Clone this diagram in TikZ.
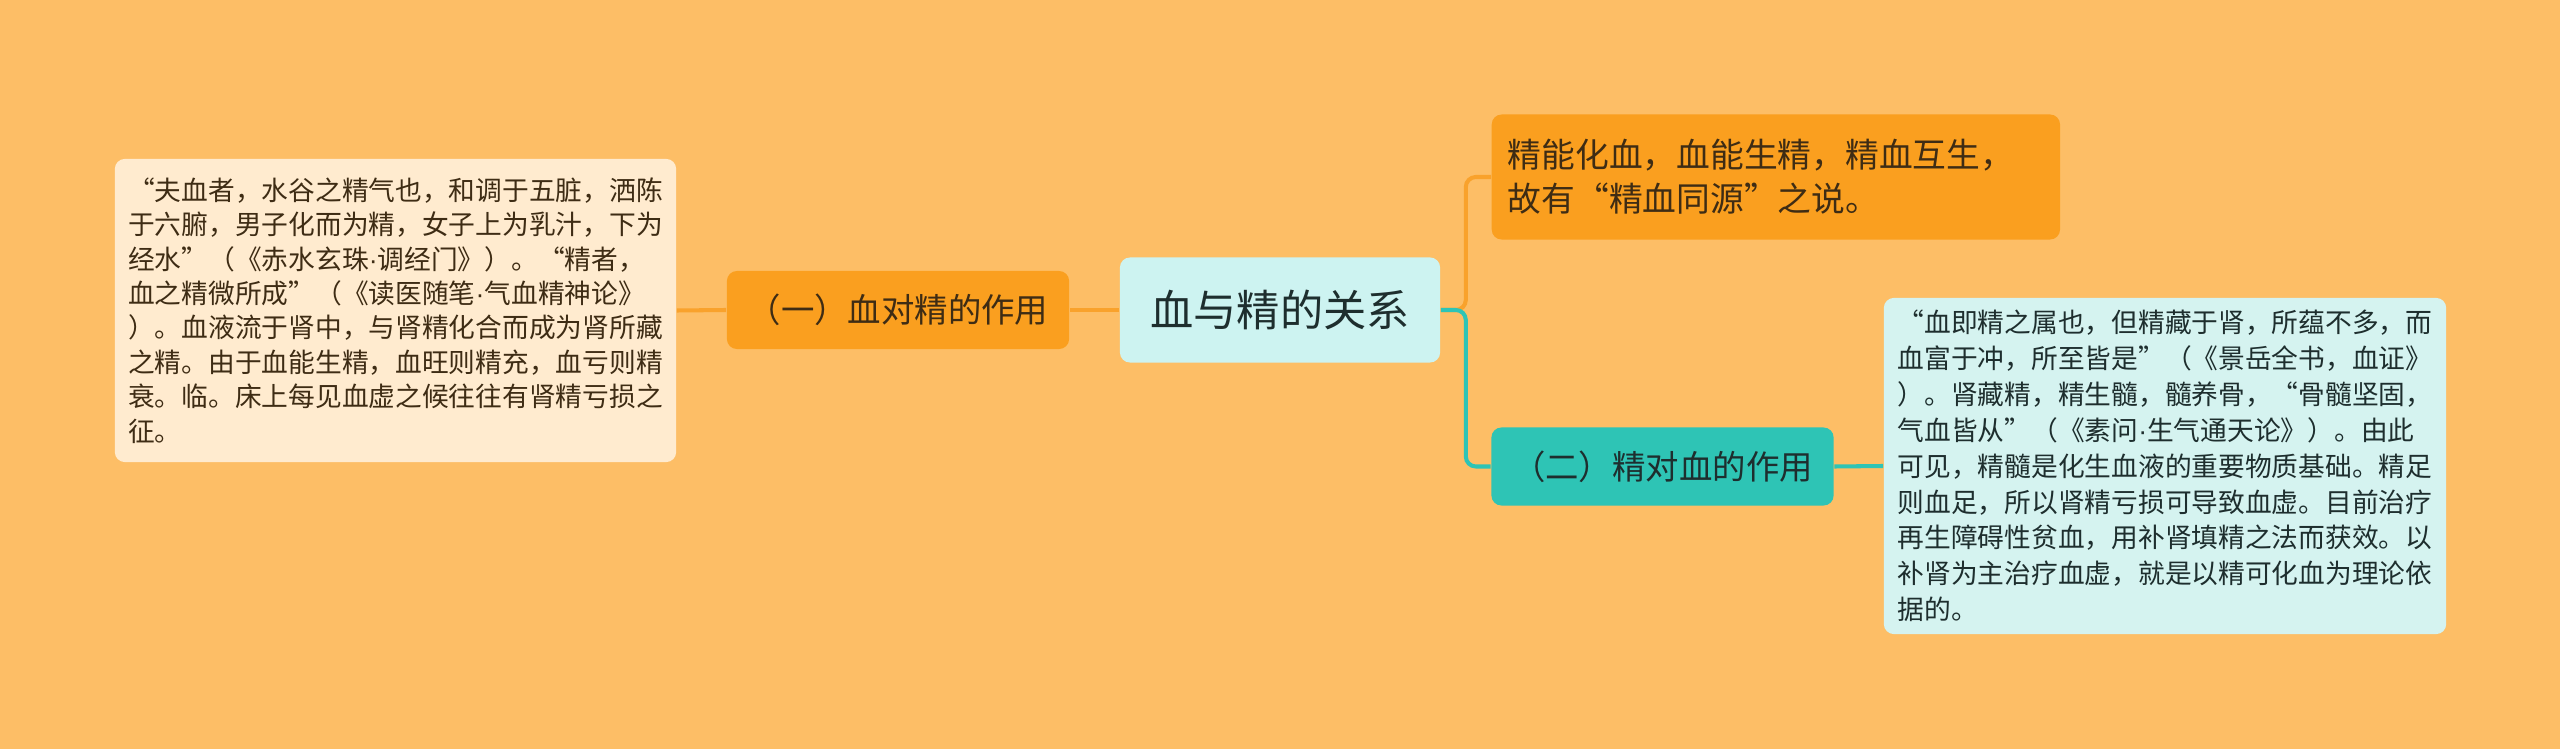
\documentclass[tikz,border=0pt]{standalone}
\usepackage{fontspec}
\setmainfont{Noto Sans CJK SC}
\newfontfamily\latinfont{Liberation Sans}
\usepackage{tikz}
\usetikzlibrary{positioning}
\definecolor{bgOrange}{HTML}{FDBE66}
\definecolor{deepOrange}{HTML}{FA9F1F}
\definecolor{lineOrange}{HTML}{F9A22C}
\definecolor{teal}{HTML}{2EC4B5}
\definecolor{paleCyan}{HTML}{CDF3F1}
\definecolor{paleTeal}{HTML}{D5F3F0}
\definecolor{cream}{HTML}{FFEBCF}
\definecolor{inkBrown}{HTML}{3E2C14}
\definecolor{inkDark}{HTML}{1E2E2E}
\newcommand\middot{{\latinfont ·}}

\begin{document}
\begin{tikzpicture}[x=0.01cm, y=-0.01cm,
    box/.style={rounded corners=0.1cm, inner sep=0pt},
    link/.style={line width=1.15pt, rounded corners=0.1cm},
    root/.style={box, fill=paleCyan, text=inkDark, minimum width=3.2cm, minimum height=1.05cm,
      font=\fontsize{12.3pt}{14pt}\selectfont},
    branch/.style={box, minimum width=3.42cm, minimum height=0.78cm,
      font=\fontsize{9.5pt}{11pt}\selectfont},
    leaf/.style={box, align=left, font=\fontsize{7.6pt}{9.8pt}\selectfont}]
  \fill[bgOrange] (0,0) rectangle (2560,749);
  \useasboundingbox (0,0) rectangle (2560,749);

  \node[root] (relation) at (1280,310) {血与精的关系};

  % left side
  \node[branch, fill=deepOrange, text=inkBrown] (bloodToEssence) at (898,310) {（一）血对精的作用};
  \node[leaf, fill=cream, text=inkBrown, minimum width=5.61cm, minimum height=3.03cm] (bloodLeaf) at (395.5,310.5)
    {“夫血者，水谷之精气也，和调于五脏，洒陈\\
     于六腑，男子化而为精，女子上为乳汁，下为\\
     经水”（《赤水玄珠\middot 调经门》）。“精者，\\
     血之精微所成”（《读医随笔\middot 气血精神论》\\
     ）。血液流于肾中，与肾精化合而成为肾所藏\\
     之精。由于血能生精，血旺则精充，血亏则精\\
     衰。临。床上每见血虚之候往往有肾精亏损之\\
     征。};

  % right side
  \node[box, fill=deepOrange, text=inkBrown, anchor=west, align=left, text width=5.36cm,
    inner xsep=0.16cm, minimum height=1.25cm, font=\fontsize{9.6pt}{12.5pt}\selectfont] (essenceNote) at (1491,177)
    {精能化血，血能生精，精血互生，\\故有“精血同源”之说。};
  \node[branch, fill=teal, text=inkDark] (essenceToBlood) at (1662.5,466.5) {（二）精对血的作用};
  \node[leaf, fill=paleTeal, text=inkDark, minimum width=5.62cm, minimum height=3.36cm,
    font=\fontsize{7.6pt}{10.2pt}\selectfont] (essenceLeaf) at (2165,466)
    {“血即精之属也，但精藏于肾，所蕴不多，而\\
     血富于冲，所至皆是”（《景岳全书，血证》\\
     ）。肾藏精，精生髓，髓养骨，“骨髓坚固，\\
     气血皆从”（《素问\middot 生气通天论》）。由此\\
     可见，精髓是化生血液的重要物质基础。精足\\
     则血足，所以肾精亏损可导致血虚。目前治疗\\
     再生障碍性贫血，用补肾填精之法而获效。以\\
     补肾为主治疗血虚，就是以精可化血为理论依\\
     据的。};

  % connectors
  \draw[link, lineOrange] (relation.west) -- (bloodToEssence.east);
  \draw[link, lineOrange] (bloodToEssence.west) -- (bloodLeaf.east);
  \draw[link, lineOrange] (relation.east) -- ++(25,0) |- (essenceNote.west);
  \draw[link, teal] (relation.east) -- ++(25,0) |- (essenceToBlood.west);
  \draw[link, teal] (essenceToBlood.east) -- (essenceLeaf.west);
\end{tikzpicture}
\end{document}
